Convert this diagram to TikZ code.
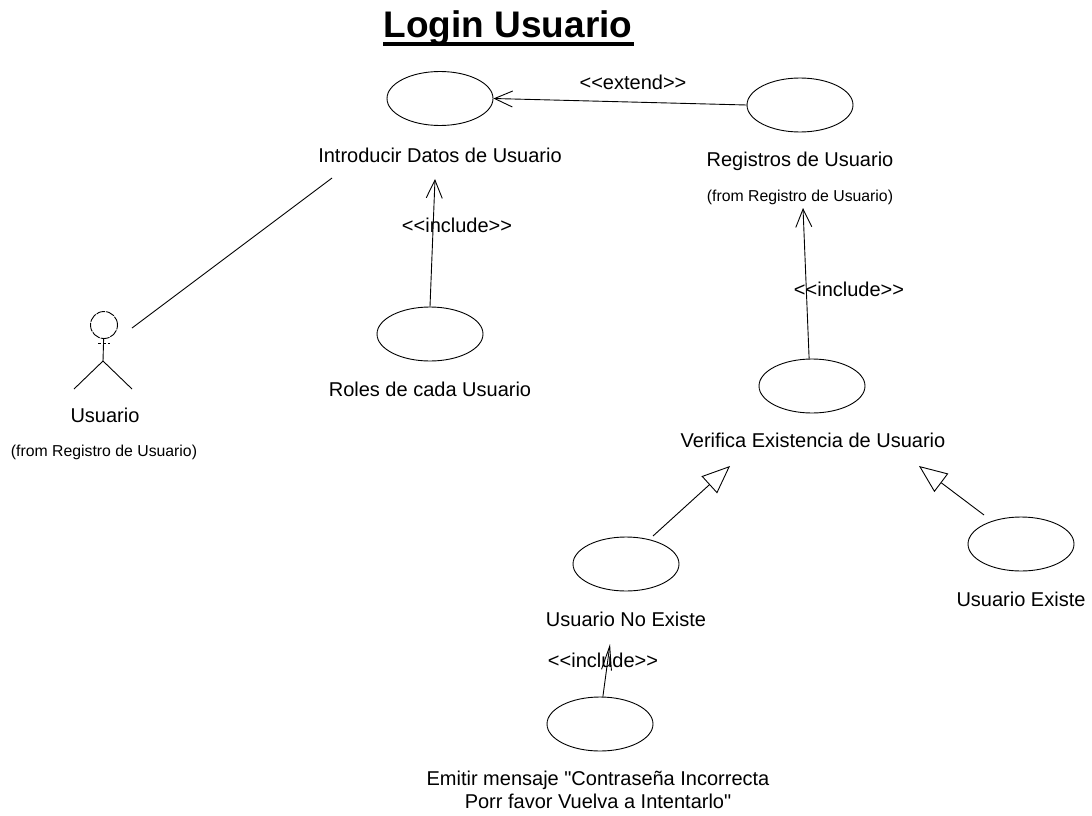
\documentclass[tikz,border=0pt]{standalone}
\usepackage{fontspec}
\setmainfont{Liberation Sans}
\newfontfamily\plainfont{Liberation Sans}
\usetikzlibrary{arrows.meta,shapes.geometric}
\tikzset{
  usecase/.style={ellipse,draw,minimum width=106pt,minimum height=54pt,inner sep=0pt},
  lbl/.style={font=\fontsize{20}{23}\selectfont,align=center,inner sep=0pt},
  from/.style={font=\fontsize{15.8}{18}\selectfont,inner sep=0pt},
  dep/.style={draw,-{Straight Barb[length=18pt,width=16pt]}},
  gen/.style={draw,-{Triangle[open,length=28pt,width=23pt]}}
}
\begin{document}
\begin{tikzpicture}[x=1pt,y=-1pt,line width=0.9pt]
\useasboundingbox (0,0) rectangle (1092,816);
\node [font=\bfseries\fontsize{37}{42}\selectfont,inner sep=0pt] (title) at (508,28) {Login Usuario};
\coordinate (titleL) at (383,44);
\coordinate (titleR) at (634,44);
\draw [line width=3.5pt] (titleL) -- (titleR);
% use cases
\node [usecase] (datos) at (440,98.5) {};
\node [lbl] (datosl) at (440,155) {Introducir Datos de Usuario};
\node [usecase] (registros) at (800,105) {};
\node [lbl] (registrosl) at (800,161) {Registros de Usuario};
\node [from] (registrosf) at (800,197) {(from Registro de Usuario)};
\node [usecase] (roles) at (430,334) {};
\node [lbl] (rolesl) at (430,389) {Roles de cada Usuario};
\node [usecase] (verifica) at (812,386) {};
\node [lbl] (verifical) at (813,440) {Verifica Existencia de Usuario};
\node [usecase] (noexiste) at (626,564) {};
\node [lbl] (noexistel) at (626,619) {Usuario No Existe};
\node [usecase] (existe) at (1021,544) {};
\node [lbl] (existel) at (1021,599) {Usuario Existe};
\node [usecase] (emitir) at (600,724) {};
\node [lbl] (emitirl) at (598,790) {Emitir mensaje {\plainfont"}Contraseña Incorrecta\\Porr favor Vuelva a Intentarlo{\plainfont"}};
% actor
\node [lbl] (usuariol) at (105,415) {Usuario};
\node [from] (usuariof) at (104,452) {(from Registro de Usuario)};
\node [circle,draw,dash pattern=on 9pt off 1pt,minimum size=27pt,inner sep=0pt] (head) at (104,325) {};
\coordinate (hip) at (103,361);
\coordinate (armL) at (98,343);
\coordinate (armR) at (110,343);
\coordinate (footL) at (74,389);
\coordinate (footR) at (132,389);
\draw (head) -- (hip);
\draw [densely dashed] (armL) -- (armR);
\draw (footL) -- (hip) -- (footR);
% connectors
\coordinate (a1) at (332,178);
\coordinate (a2) at (132,328);
\draw (a1) -- (a2);
\draw [dep] (registros.west) -- (datos.east);
\node [lbl] (ext) at (633,82) {<{}<extend>{}>};
\coordinate (r2) at (435,179);
\draw [dep] (roles.north) -- (r2);
\node [lbl] (inc1) at (457,225) {<{}<include>{}>};
\coordinate (v2) at (803,208);
\draw [dep] (verifica.96) -- (v2);
\node [lbl] (inc2) at (849,289) {<{}<include>{}>};
\coordinate (n1) at (653,536);
\coordinate (n2) at (730,466);
\draw [gen] (n1) -- (n2);
\coordinate (x1) at (984,515);
\coordinate (x2) at (919,466);
\draw [gen] (x1) -- (x2);
\coordinate (m2) at (610,644);
\draw [-{Straight Barb[length=24pt,width=10pt]}] (emitir.84) -- (m2);
\node [lbl] (inc3) at (603,660) {<{}<include>{}>};
\end{tikzpicture}
\end{document}
